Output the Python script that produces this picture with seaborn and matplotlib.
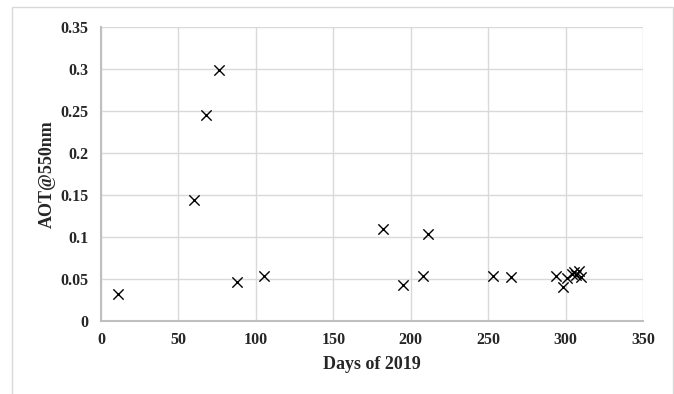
import matplotlib
matplotlib.use("Agg")
import matplotlib.pyplot as plt
import seaborn as sns
import pandas as pd
from matplotlib.patches import Rectangle
from matplotlib.ticker import FuncFormatter, MultipleLocator

# day of year and aerosol optical thickness
days = [11, 60, 68, 76, 88, 105, 182, 195, 208, 211, 253, 265,
        294, 298, 301, 304, 305.5, 307, 308.5, 310]
aot = [0.032, 0.144, 0.245, 0.299, 0.046, 0.054, 0.110, 0.043, 0.054, 0.104, 0.054, 0.052,
       0.054, 0.041, 0.051, 0.056, 0.058, 0.055, 0.059, 0.052]

df = pd.DataFrame({"day": days, "aot": aot})

sns.set_style("whitegrid")
plt.rcParams["font.family"] = ["Liberation Serif", "DejaVu Serif"]

fig = plt.figure(figsize=(6.74, 3.94), dpi=100)
ax = fig.add_axes([0.1499, 0.1853, 0.8042, 0.7462])

sns.scatterplot(data=df, x="day", y="aot", marker="x", color="black",
                s=55, linewidth=1.0, ax=ax, zorder=3)

ax.set_xlim(0, 350)
ax.set_ylim(0, 0.35)
ax.xaxis.set_major_locator(MultipleLocator(50))
ax.yaxis.set_major_locator(MultipleLocator(0.05))
ax.yaxis.set_major_formatter(FuncFormatter(lambda v, p: f"{v:g}"))
ax.xaxis.set_major_formatter(FuncFormatter(lambda v, p: f"{v:g}"))

ax.grid(True, color="#d9d9d9", linewidth=1.0)
for side in ["top", "right"]:
    ax.spines[side].set_visible(False)
for side in ["left", "bottom"]:
    ax.spines[side].set_color("#bfbfbf")
    ax.spines[side].set_linewidth(1.5)
ax.tick_params(length=0)
ax.tick_params(axis="y", pad=9)
ax.tick_params(axis="x", pad=8)
for lbl in ax.get_xticklabels() + ax.get_yticklabels():
    lbl.set_fontsize(11.5)
    lbl.set_fontweight("bold")

ax.set_xlabel("Days of 2019", fontsize=13, fontweight="bold", labelpad=6)
ax.set_ylabel("AOT@550nm", fontsize=13, fontweight="bold", labelpad=3)

# chart frame
fig.patches.append(Rectangle((12 / 674, -0.02), 661 / 674, 1 - 7 / 394 + 0.02,
                             transform=fig.transFigure, fill=False,
                             edgecolor="#d9d9d9", linewidth=1.0))

fig.savefig("out.png", dpi=100)
